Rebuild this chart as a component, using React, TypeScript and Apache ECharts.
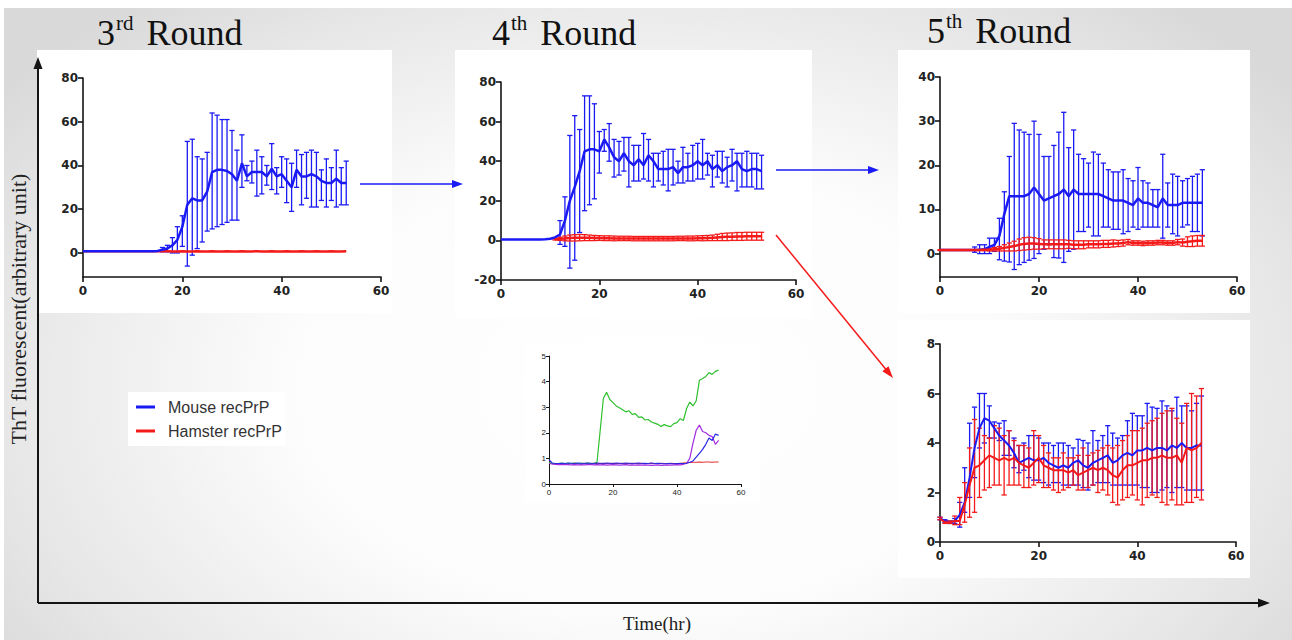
import React, { useEffect, useRef } from 'react';
import * as echarts from 'echarts';

// Sampling times (hours), shared by every panel
const hours = [
  0, 1, 2, 3, 4, 5, 6, 7, 8, 9, 10, 11, 12, 13, 14, 15, 16, 17, 18, 19, 20, 21, 22, 23, 24, 25, 26,
  27, 28, 29, 30, 31, 32, 33, 34, 35, 36, 37, 38, 39, 40, 41, 42, 43, 44, 45, 46, 47, 48, 49, 50, 51,
  52, 53,
];

const N = null;

// ---- 3rd round ----
const r3Mouse = [
  0.8, 0.8, 0.8, 0.8, 0.8, 0.8, 0.8, 0.8, 0.8, 0.8, 0.8, 0.8, 0.8, 0.8, 0.8, 0.9,
  1.5, 2, 3.5, 6, 12, 22, 25, 24, 24, 28, 37, 38, 38, 37.5, 36, 33, 41, 35, 37, 37, 37, 35, 38.5, 35,
  36, 33, 30, 38, 35, 35, 36, 35, 33, 32, 32, 34, 32, 32,
];
const r3MouseHi = [
  N, N, N, N, N, N, N, N, N, N, N, N, N, N, N, N,
  2.5, 3.5, 7, 12, 17, 51, 52, 44, 43, 46, 64, 63, 61, 61, 56, 47, 54, 40, 42, 47, 44, 40, 50, 39,
  44, 43, 41, 47, 45, 46, 47, 46, 38, 43, 39, 47, 39, 42,
];
const r3MouseLo = [
  N, N, N, N, N, N, N, N, N, N, N, N, N, N, N, N,
  0.5, 0.5, 0, 0, 3, -6, -1, 2, 5, 10, 11, 12, 13, 14, 15, 15, 30, 33, 32, 26, 27, 31, 29, 27,
  30, 23, 19, 30, 22, 25, 21, 21, 24, 21, 24, 21, 22, 22,
];
const r3Hamster = [
  0.8, 0.8, 0.8, 0.8, 0.8, 0.8, 0.8, 0.8, 0.8, 0.8, 0.8, 0.8, 0.8, 0.8, 0.8, 0.8, 0.8, 0.8,
  0.7, 0.7, 0.8, 0.7, 0.7, 0.8, 0.7, 0.7, 0.8, 0.7, 0.7, 0.8, 0.7, 0.7, 0.8, 0.7, 0.7, 0.8,
  0.7, 0.7, 0.8, 0.7, 0.7, 0.8, 0.7, 0.7, 0.8, 0.7, 0.7, 0.8, 0.7, 0.7, 0.8, 0.7, 0.7, 0.8,
];

// ---- 4th round ----
const r4Mouse = [
  0.5, 0.5, 0.5, 0.5, 0.5, 0.5, 0.5, 0.5, 0.5, 0.6, 0.8,
  1.5, 3, 10, 20, 27, 35, 45, 46, 46, 45, 51, 47, 42, 40, 44, 40, 38, 41, 38, 43, 40, 36, 36, 36,
  37, 34, 37, 37, 38, 40, 38, 40, 36, 38, 35, 37, 38, 40, 36, 35, 36, 36, 35,
];
const r4MouseHi = [
  N, N, N, N, N, N, N, N, N, N, N, N,
  10, 22, 53, 63, 56, 73, 73, 69, 55, 56, 59, 51, 50, 52, 52, 48, 48, 54, 51, 44,
  44, 45, 46, 46, 40, 47, 44, 48, 49, 51, 44, 43, 45, 45, 42, 46, 44, 44, 45, 44, 44, 43,
];
const r4MouseLo = [
  N, N, N, N, N, N, N, N, N, N, N, N,
  -2, -3, -14, -10, 4, 15, 18, 21, 34, 45, 40, 32, 33, 35, 27, 30, 30, 31, 30, 27,
  30, 28, 25, 28, 29, 29, 30, 30, 31, 31, 33, 27, 32, 29, 27, 30, 25, 27, 27, 27, 26, 26,
];
const r4Hamster = [
  N, N, N, N, N, N, N, N, N, N, N,
  0.5, 0.8, 1.0, 1.2, 1.3, 1.4, 1.4, 1.3, 1.2, 1.2, 1.1, 1.1, 1.0, 1.0, 1.0, 1.0, 0.9, 0.9, 0.9, 0.9,
  0.9, 0.9, 0.9, 0.9, 0.9, 1.0, 1.0, 1.0, 1.0, 1.1, 1.1, 1.2, 1.3, 1.5, 1.7, 1.8, 1.9, 2.0, 2.0, 2.1,
  2.1, 2.1, 2.1,
];
const r4HamsterErr = [
  N, N, N, N, N, N, N, N, N, N, N,
  0.3, 0.8, 1.2, 1.5, 1.6, 1.6, 1.5, 1.4, 1.3, 1.2, 1.2, 1.2, 1.2, 1.1, 1.1, 1.1, 1.1, 1.1, 1.1, 1.1,
  1.1, 1.1, 1.1, 1.1, 1.1, 1.1, 1.1, 1.2, 1.2, 1.2, 1.3, 1.3, 1.4, 1.6, 1.8, 1.9, 1.9, 2.0, 2.0, 2.0,
  2.0, 2.0, 2.0,
];

// ---- 5th round, seeded from mouse product ----
const r5Mouse = [
  0.8, 0.8, 0.8, 0.8, 0.8, 0.8, 0.8, 0.8, 0.9,
  1, 1.5, 2, 4, 9, 13, 13, 13, 13, 13.5, 15, 13.5, 12, 12.5, 13, 13.5, 14.5, 13, 14.5, 13.5,
  13.5, 13.5, 13.5, 13.5, 13, 12.5, 12, 12, 12, 11.5, 11, 12.5, 11.5, 11.5, 11, 10.5, 12.5, 11, 11, 11,
  11.5, 11.5, 11.5, 11.5, 11.5,
];
const r5MouseHi = [
  N, N, N, N, N, N, N,
  1.5, 2, 2, 3.5, 3.5, 8, 14, 22, 29.5, 28, 27.5, 27, 30, 27, 22, 22, 24.5, 27.5, 32, 24,
  28, 22.5, 21.5, 20.5, 23, 22.5, 20.5, 19, 18.5, 18.5, 19, 17, 16.5, 19.5, 16.5, 16, 14.5, 14.5, 22.5, 16,
  18, 17.5, 16.5, 17, 17.5, 18, 19,
];
const r5MouseLo = [
  N, N, N, N, N, N, N,
  0.3, 0, 0, 0, 0.5, -1.4, -1.7, -1.9, -3.6, -2.5, -2, -1.5, -1.1, 0, 1, 2, -0.9, -1, -2, 0.5,
  1, 5, 5, 6, 4, 4, 6, 6, 5.5, 5.5, 4.5, 5, 6, 5.5, 6, 6, 6, 6, 3.5, 6,
  4.5, 4, 6, 6.5, 5, 5, 4,
];
const r5Hamster = [
  0.8, 0.8, 0.8, 0.8, 0.8, 0.8, 0.8, 0.8, 0.8,
  0.85, 0.9, 1.0, 1.1, 1.3, 1.5, 1.7, 2.0, 2.2, 2.3, 2.3, 2.2, 2.1, 2.1, 2.1, 2.1, 2.1, 2.1, 2.0, 2.0,
  2.0, 2.1, 2.1, 2.1, 2.2, 2.2, 2.3, 2.3, 2.4, 2.6, 2.4, 2.4, 2.3, 2.4, 2.4, 2.5, 2.5, 2.4, 2.4, 2.6,
  2.5, 2.7, 2.8, 2.9, 2.9,
];
const r5HamsterErr = [
  0.1, 0.1, 0.1, 0.1, 0.1, 0.1, 0.1, 0.1, 0.1,
  0.2, 0.3, 0.4, 0.5, 0.7, 0.9, 1.1, 1.3, 1.4, 1.4, 1.3, 1.2, 1.0, 1.0, 1.0, 1.0, 1.0, 0.9, 0.9, 0.9,
  0.9, 0.8, 0.8, 0.8, 0.8, 0.8, 0.8, 0.7, 0.7, 0.6, 0.5, 0.5, 0.5, 0.5, 0.5, 0.5, 0.5, 0.5, 0.5, 0.6,
  0.8, 1.1, 1.2, 1.2, 1.2,
];

// ---- 5th round, seeded from hamster product ----
const r5bMouse = [
  0.95, 0.85, 0.8, 0.85, 1.1, 1.6, 2.6, 3.8, 4.6, 5.0, 4.9, 4.6, 4.3, 4.1, 3.9, 3.6, 3.2, 3.3, 3.4, 3.3,
  3.3, 3.4, 3.2, 3.1, 3.0, 3.1, 3.0, 3.2, 3.3, 3.1, 3.0, 3.2, 3.3, 3.4, 3.5, 3.2, 3.3, 3.5, 3.6, 3.5,
  3.7, 3.7, 3.8, 3.7, 3.8, 3.8, 3.7, 3.9, 3.8, 4.0, 3.8, 3.8, 3.9, 3.9,
];
const r5bMouseHi = [
  1.0, 0.9, 0.85, 0.95, 1.6, 3.0, 4.8, 5.45, 6.0, 6.0, 5.5, 4.85, 4.8, 4.9, 4.5, 4.2, 3.9, 4.0, 4.3, 4.3,
  4.2, 4.0, 4.0, 3.9, 4.0, 4.0, 3.9, 3.8, 4.15, 4.1, 4.0, 4.5, 4.1, 4.3, 4.7, 4.4, 4.2, 4.3, 4.9, 5.2,
  5.1, 5.1, 5.6, 5.45, 5.4, 5.7, 5.5, 5.3, 5.85, 5.5, 5.5, 5.3, 5.6, 5.9,
];
const r5bMouseLo = [
  0.9, 0.8, 0.75, 0.75, 0.6, 1.2, 1.8, 2.6, 3.8, 4.0, 4.2, 4.2, 4.1, 3.5, 3.5, 3.0, 2.8, 2.9, 2.6, 2.5,
  2.5, 2.4, 2.3, 2.4, 2.4, 2.3, 2.3, 2.3, 2.3, 2.2, 2.1, 2.3, 2.4, 2.4, 2.4, 2.3, 2.3, 2.3, 2.3, 2.3,
  2.3, 2.2, 2.2, 2.0, 2.0, 2.1, 2.2, 2.0, 2.2, 2.2, 2.1, 2.1, 2.1, 2.1,
];
const r5bHamster = [
  0.95, 0.8, 0.8, 0.85, 0.85, 1.5, 2.3, 3.0, 3.1, 3.3, 3.5, 3.4, 3.3, 3.4, 3.3, 3.4, 3.2, 3.1, 3.0, 3.2,
  3.4, 3.1, 3.0, 2.9, 2.9, 2.9, 2.8, 2.9, 2.7, 2.8, 2.9, 3.0, 2.9, 3.0, 2.9, 2.7, 2.6, 2.9, 3.1, 3.1,
  3.2, 3.3, 3.3, 3.4, 3.4, 3.5, 3.4, 3.4, 3.5, 3.2, 3.8, 3.7, 3.8, 4.0,
];
const r5bHamsterHi = [
  1.0, 0.85, 0.85, 1.05, 1.8, 2.4, 3.8, 4.95, 4.6, 4.3, 4.2, 4.7, 4.6, 4.3, 4.5, 4.1, 3.9, 3.9, 3.8, 4.5,
  4.3, 3.9, 3.6, 3.4, 3.4, 3.6, 3.4, 3.4, 3.5, 3.8, 3.5, 3.6, 3.7, 3.8, 3.9, 3.8, 3.9, 4.1, 4.3, 4.5,
  4.5, 4.6, 4.8, 4.9, 5.0, 5.2, 5.3, 5.4, 5.0, 4.8, 5.6, 6.0, 5.9, 6.2,
];
const r5bHamsterLo = [
  0.9, 0.75, 0.75, 0.7, 0.7, 0.8, 1.0, 1.2, 1.8, 2.1, 2.2, 2.3, 2.3, 1.9, 2.3, 2.3, 2.3, 2.2, 2.2, 2.3,
  2.4, 2.2, 2.2, 2.1, 2.0, 2.1, 2.2, 2.3, 2.1, 2.1, 2.2, 2.3, 2.0, 2.1, 1.9, 1.6, 1.5, 1.7, 1.8, 1.9,
  1.7, 1.5, 1.8, 1.9, 1.8, 1.6, 1.5, 1.7, 1.5, 1.5, 1.6, 1.6, 1.8, 1.7,
];

// ---- single-well traces ----
const wellGreen = [
  0.85, 0.8, 0.8, 0.8, 0.82, 0.8, 0.81, 0.8, 0.82, 0.8, 0.81, 0.8, 0.82, 0.8, 0.81, 0.85, 2.1, 3.35, 3.58, 3.3,
  3.18, 3.05, 2.98, 2.9, 2.82, 2.86, 2.72, 2.75, 2.6, 2.62, 2.5, 2.52, 2.42, 2.38, 2.33, 2.25, 2.32, 2.27, 2.24, 2.36,
  2.4, 2.55, 2.48, 2.95, 3.2, 3.05, 3.25, 4.05, 4.12, 4.2, 4.35, 4.28, 4.4, 4.45,
];
const wellPurple = [
  0.8, 0.78, 0.77, 0.76, 0.76, 0.77, 0.76, 0.75, 0.76, 0.75, 0.76, 0.75, 0.76, 0.77, 0.75, 0.76, 0.75, 0.76, 0.74, 0.75,
  0.76, 0.75, 0.74, 0.75, 0.76, 0.74, 0.75, 0.74, 0.75, 0.74, 0.75, 0.74, 0.73, 0.74, 0.75, 0.73, 0.74, 0.75, 0.74, 0.75,
  0.76, 0.75, 0.77, 0.8, 1.0, 1.6, 2.1, 2.3, 2.05, 2.0, 1.9, 1.85, 1.55, 1.7,
];
const wellBlue = [
  0.95, 0.82, 0.8, 0.8, 0.81, 0.8, 0.82, 0.81, 0.8, 0.82, 0.81, 0.8, 0.82, 0.81, 0.8, 0.82, 0.81, 0.8, 0.82, 0.81,
  0.8, 0.82, 0.81, 0.8, 0.82, 0.81, 0.8, 0.81, 0.82, 0.8, 0.81, 0.8, 0.82, 0.8, 0.81, 0.8, 0.79, 0.8, 0.8, 0.79,
  0.8, 0.8, 0.8, 0.81, 0.85, 0.9, 1.05, 1.2, 1.35, 1.55, 1.8, 1.7, 1.95, 1.9,
];
const wellRed = [
  0.8, 0.8, 0.8, 0.8, 0.8, 0.8, 0.8, 0.8, 0.81, 0.8, 0.8, 0.81, 0.8, 0.8, 0.81, 0.8, 0.8, 0.81, 0.8, 0.8,
  0.81, 0.8, 0.8, 0.81, 0.8, 0.8, 0.81, 0.8, 0.8, 0.81, 0.8, 0.8, 0.81, 0.8, 0.8, 0.81, 0.8, 0.8, 0.81, 0.8,
  0.8, 0.81, 0.82, 0.83, 0.84, 0.85, 0.85, 0.86, 0.85, 0.86, 0.86, 0.85, 0.86, 0.86,
];

const xTicks = [0, 20, 40, 60];

const BLUE = '#1a1af5';
const RED = '#f51a1a';
const INK = '#141414';
const SANS = "'Liberation Sans', Arial, sans-serif";
const TICK_FONT = "'DejaVu Sans', 'Liberation Sans', sans-serif";
const SERIF = "'Liberation Serif', 'Times New Roman', serif";

const MOUSE = 'Mouse recPrP';
const HAMSTER = 'Hamster recPrP';

type Frame = {
  left: number; top: number; width: number; height: number;
  yMin: number; yMax: number; yTicks: number[]; small?: boolean;
};

const frames: Frame[] = [
  { left: 83, top: 78, width: 298, height: 199, yMin: -11, yMax: 80, yTicks: [0, 20, 40, 60, 80] },
  { left: 501, top: 82, width: 295, height: 198, yMin: -20, yMax: 80, yTicks: [-20, 0, 20, 40, 60, 80] },
  { left: 940, top: 77, width: 297, height: 200, yMin: -5.3, yMax: 40, yTicks: [0, 10, 20, 30, 40] },
  { left: 940, top: 344, width: 296, height: 198, yMin: 0, yMax: 8, yTicks: [0, 2, 4, 6, 8] },
  { left: 549, top: 356, width: 192, height: 128, yMin: 0, yMax: 5, yTicks: [0, 1, 2, 3, 4, 5], small: true },
];

function pairs(values: (number | null)[]) {
  const out: number[][] = [];
  hours.forEach((h, i) => {
    const v = values[i];
    if (v !== null && v !== undefined) out.push([h, v]);
  });
  return out;
}

function meanLine(name: string, color: string, idx: number, values: (number | null)[], width: number) {
  return {
    type: 'line', name, xAxisIndex: idx, yAxisIndex: idx,
    data: pairs(values), showSymbol: false, symbol: 'none', silent: true,
    lineStyle: { color, width }, itemStyle: { color },
  };
}

function errorBars(name: string, color: string, idx: number, lo: (number | null)[], hi: (number | null)[]) {
  const data: number[][] = [];
  hours.forEach((h, i) => {
    const a = lo[i];
    const b = hi[i];
    if (a !== null && b !== null && a !== undefined && b !== undefined) data.push([h, a, b]);
  });
  return {
    type: 'custom', name, xAxisIndex: idx, yAxisIndex: idx, silent: true,
    itemStyle: { color }, encode: { x: 0, y: [1, 2] }, data,
    renderItem: (_params: any, api: any) => {
      const x = api.value(0);
      const pLo = api.coord([x, api.value(1)]);
      const pHi = api.coord([x, api.value(2)]);
      const hw = 2.6;
      const style = { stroke: color, lineWidth: 1.3, fill: null };
      return {
        type: 'group',
        children: [
          { type: 'line', shape: { x1: pLo[0], y1: pLo[1], x2: pHi[0], y2: pHi[1] }, style },
          { type: 'line', shape: { x1: pHi[0] - hw, y1: pHi[1], x2: pHi[0] + hw, y2: pHi[1] }, style },
          { type: 'line', shape: { x1: pLo[0] - hw, y1: pLo[1], x2: pLo[0] + hw, y2: pLo[1] }, style },
        ],
      };
    },
  };
}

function band(values: (number | null)[], err: (number | null)[], sign: number) {
  return values.map((v, i) => {
    const e = err[i];
    return v === null || e === null ? null : +(v + sign * e).toFixed(2);
  });
}

function arrow(x1: number, y1: number, x2: number, y2: number, color: string, width: number, headLen: number, headHalf: number) {
  const dx = x2 - x1;
  const dy = y2 - y1;
  const len = Math.hypot(dx, dy);
  const ux = dx / len;
  const uy = dy / len;
  const bx = x2 - ux * headLen;
  const by = y2 - uy * headLen;
  const nx = -uy;
  const ny = ux;
  return [
    { type: 'line', z: 20, silent: true, shape: { x1, y1, x2: bx + ux, y2: by + uy }, style: { stroke: color, lineWidth: width } },
    {
      type: 'polygon', z: 20, silent: true,
      shape: { points: [[x2, y2], [bx + nx * headHalf, by + ny * headHalf], [bx - nx * headHalf, by - ny * headHalf]] },
      style: { fill: color },
    },
  ];
}

function roundTitle(x: number, y: number, num: string, sup: string) {
  return {
    type: 'text', x, y, z: 20, silent: true,
    style: {
      text: `{n|${num}}{s|${sup}}{n|Round}`,
      align: 'left', verticalAlign: 'top',
      rich: {
        n: { fontFamily: SERIF, fontSize: 36, lineHeight: 42, fill: '#111' },
        s: { fontFamily: SERIF, fontSize: 21, lineHeight: 34, verticalAlign: 'top', fill: '#111', padding: [0, 13, 0, 1] },
      },
    },
  };
}

function panel(x: number, y: number, w: number, h: number) {
  return { type: 'rect', z: -10, silent: true, shape: { x, y, width: w, height: h }, style: { fill: '#ffffff' } };
}

export default function App() {
  const ref = useRef<HTMLDivElement>(null);

  useEffect(() => {
    if (!ref.current) return;
    const chart = echarts.init(ref.current, null, { renderer: 'svg' });

    const grid = frames.map((f) => ({
      left: f.left, top: f.top, width: f.width, height: f.height,
      show: false, containLabel: false, outerBoundsMode: 'none',
    }));

    const xAxis = frames.map((f, i) => ({
      gridIndex: i, type: 'value', min: 0, max: 60, interval: 20,
      axisLine: { show: true, onZero: false, lineStyle: { color: INK, width: f.small ? 1 : 1.6 } },
      axisTick: { show: true, customValues: xTicks, length: f.small ? 3 : 5, lineStyle: { color: INK, width: f.small ? 1 : 1.6 } },
      axisLabel: {
        customValues: xTicks, color: '#222', fontFamily: f.small ? SANS : TICK_FONT,
        fontSize: f.small ? 8 : 12, fontWeight: f.small ? 'normal' : 'bold', margin: f.small ? 4 : 8,
      },
      splitLine: { show: false },
    }));

    const yAxis = frames.map((f, i) => ({
      gridIndex: i, type: 'value', min: f.yMin, max: f.yMax,
      axisLine: { show: true, onZero: false, lineStyle: { color: INK, width: f.small ? 1 : 1.6 } },
      axisTick: { show: true, customValues: f.yTicks, length: f.small ? 3 : 5, lineStyle: { color: INK, width: f.small ? 1 : 1.6 } },
      axisLabel: {
        customValues: f.yTicks, color: '#222', fontFamily: f.small ? SANS : TICK_FONT,
        fontSize: f.small ? 8 : 12, fontWeight: f.small ? 'normal' : 'bold', margin: f.small ? 3 : 5,
      },
      splitLine: { show: false },
    }));

    const series: any[] = [
      // 3rd round
      meanLine(HAMSTER, RED, 0, r3Hamster, 2.5),
      errorBars(MOUSE, BLUE, 0, r3MouseLo, r3MouseHi),
      meanLine(MOUSE, BLUE, 0, r3Mouse, 2.5),
      // 4th round
      errorBars(MOUSE, BLUE, 1, r4MouseLo, r4MouseHi),
      meanLine(MOUSE, BLUE, 1, r4Mouse, 2.5),
      errorBars(HAMSTER, RED, 1, band(r4Hamster, r4HamsterErr, -1), band(r4Hamster, r4HamsterErr, 1)),
      meanLine(HAMSTER, RED, 1, r4Hamster, 2.5),
      // 5th round (mouse seed)
      errorBars(MOUSE, BLUE, 2, r5MouseLo, r5MouseHi),
      meanLine(MOUSE, BLUE, 2, r5Mouse, 2.5),
      errorBars(HAMSTER, RED, 2, band(r5Hamster, r5HamsterErr, -1), band(r5Hamster, r5HamsterErr, 1)),
      meanLine(HAMSTER, RED, 2, r5Hamster, 2.5),
      // 5th round (hamster seed)
      errorBars(MOUSE, BLUE, 3, r5bMouseLo, r5bMouseHi),
      meanLine(MOUSE, BLUE, 3, r5bMouse, 2),
      errorBars(HAMSTER, RED, 3, r5bHamsterLo, r5bHamsterHi),
      meanLine(HAMSTER, RED, 3, r5bHamster, 2),
      // individual wells
      meanLine('Well 4', '#e53030', 4, wellRed, 1.2),
      meanLine('Well 1', '#2ec02e', 4, wellGreen, 1.2),
      meanLine('Well 2', '#a22be0', 4, wellPurple, 1.2),
      meanLine('Well 3', '#2a2ae6', 4, wellBlue, 1.2),
    ];

    const graphic: any[] = [
      panel(37, 50, 355, 263),
      panel(455, 50, 357, 268),
      panel(898, 50, 352, 263),
      panel(898, 320, 352, 258),
      panel(525, 343, 235, 160),
      roundTitle(97, 12, '3', 'rd'),
      roundTitle(492, 12, '4', 'th'),
      roundTitle(927, 10, '5', 'th'),
      // overall axes
      ...arrow(38, 603, 38, 57, INK, 2, 12, 4.5),
      ...arrow(38, 603, 1270, 603, INK, 2, 12, 4.5),
      // round-to-round transfers
      ...arrow(360, 184, 463, 184, BLUE, 1.5, 11, 4),
      ...arrow(776, 170, 879, 170, BLUE, 1.5, 11, 4),
      ...arrow(776, 235, 893, 378, RED, 1.5, 12, 4),
      {
        type: 'text', x: 18, y: 309, rotation: Math.PI / 2, z: 20, silent: true,
        style: { text: 'ThT fluorescent(arbitrary unit)', fontFamily: SERIF, fontSize: 22, fill: '#222', align: 'center', verticalAlign: 'middle' },
      },
      {
        type: 'text', x: 657, y: 623, z: 20, silent: true,
        style: { text: 'Time(hr)', fontFamily: SERIF, fontSize: 19, fill: '#222', align: 'center', verticalAlign: 'middle' },
      },
    ];

    chart.setOption({
      animation: false,
      backgroundColor: 'transparent',
      grid, xAxis, yAxis, series, graphic,
      legend: {
        data: [MOUSE, HAMSTER],
        orient: 'vertical', left: 128, top: 392,
        padding: [6, 4, 6, 8], itemGap: 6,
        icon: 'rect', itemWidth: 19, itemHeight: 3,
        backgroundColor: '#ffffff',
        selectedMode: false,
        textStyle: { fontFamily: SANS, fontSize: 16, color: '#333', lineHeight: 18, padding: [0, 0, 0, 8] },
      },
    });

    return () => chart.dispose();
  }, []);

  return (
    <div style={{ position: 'fixed', left: 0, top: 0, width: 1292, height: 640, background: '#ffffff', overflow: 'hidden' }}>
      <div
        style={{
          position: 'absolute', left: 4, top: 8, right: 0, bottom: 0,
          background: 'radial-gradient(ellipse 62% 80% at 50% 60%, #ffffff 0%, #fcfcfc 45%, #e6e6e6 82%, #d9d9d9 100%)',
        }}
      />
      <div ref={ref} style={{ position: 'absolute', left: 0, top: 0, width: 1292, height: 640 }} />
    </div>
  );
}
